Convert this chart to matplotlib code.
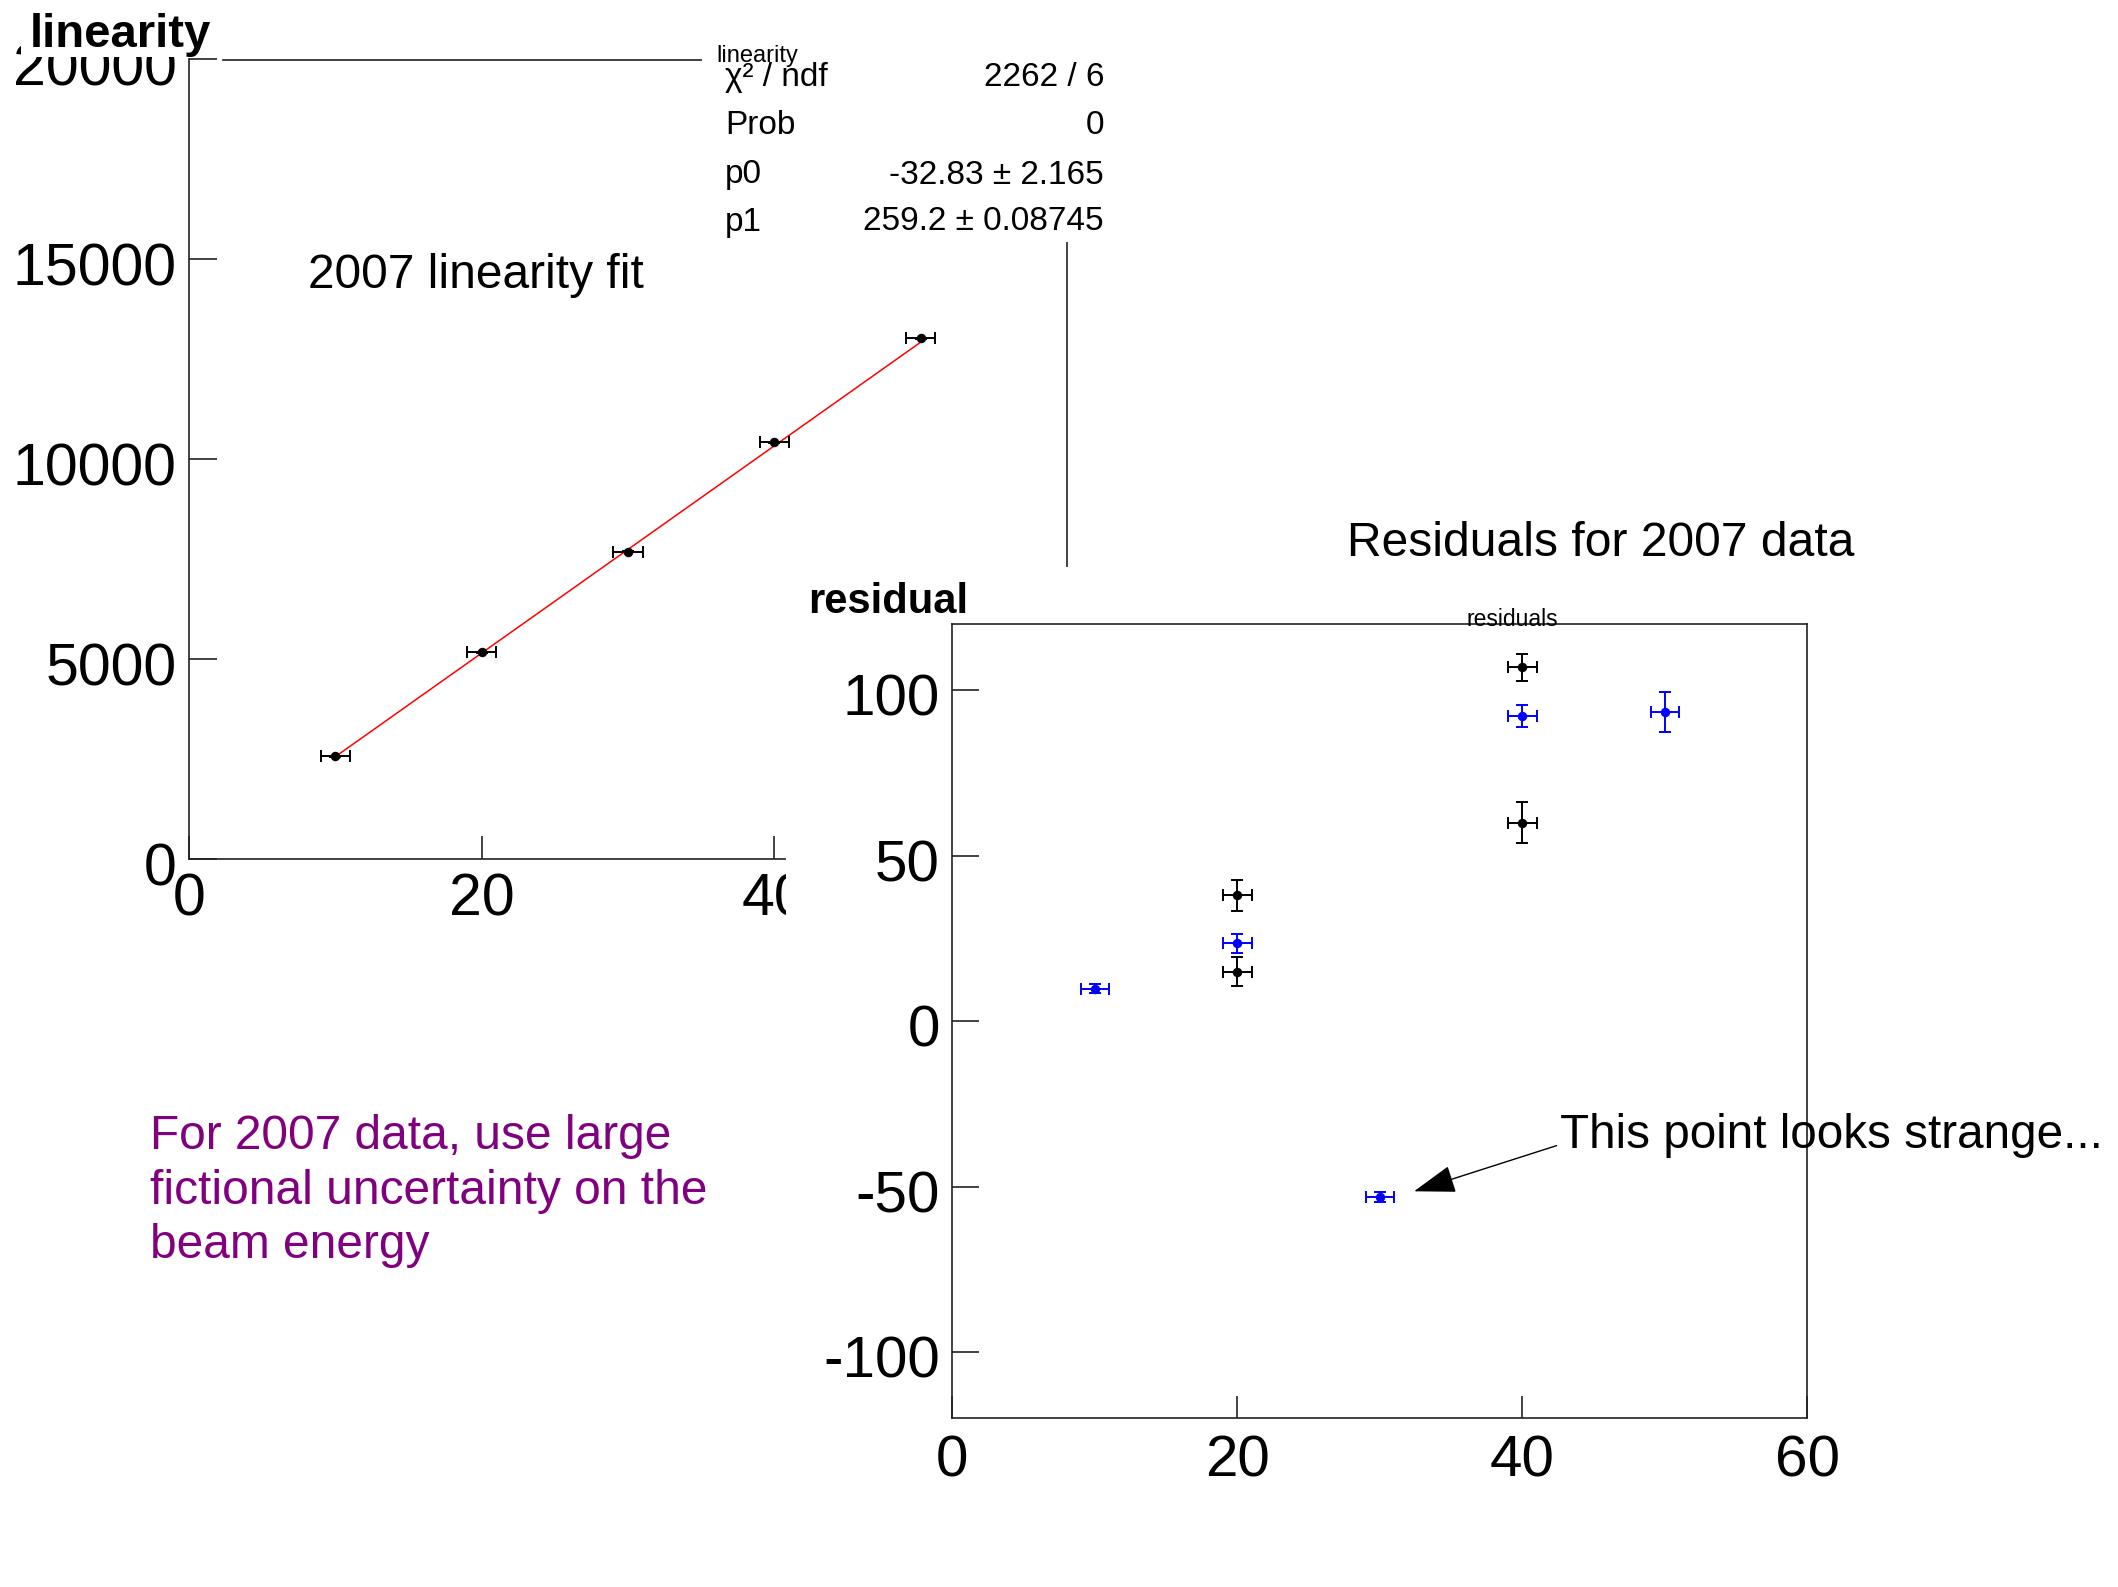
import matplotlib
matplotlib.use('Agg')
import matplotlib.pyplot as plt
import matplotlib.transforms as mtransforms
from matplotlib.patches import Rectangle
from matplotlib.lines import Line2D

plt.rcParams['font.family'] = ['Liberation Sans', 'DejaVu Sans']
plt.rcParams['axes.unicode_minus'] = False

# linearity data: beam energy vs measured response
energy = [10, 20, 30, 40, 50]
energy_err = [1, 1, 1, 1, 1]
response = [2569, 5175, 7691, 10427, 13021]
response_err = [8, 10, 12, 15, 18]

# fit results (pol1)
p0, p0_err = -32.83, 2.165
p1, p1_err = 259.2, 0.08745
chi2_ndf = '2262 / 6'
prob = '0'

# residuals
res_black_x = [20, 20, 40, 40]
res_black_y = [38, 15, 107, 60]
res_black_err = [4.8, 4.3, 4.1, 6.2]
res_blue_x = [10, 20, 30, 40, 50]
res_blue_y = [9.8, 23.5, -53, 92.2, 93.5]
res_blue_err = [1.4, 2.9, 1.5, 3.4, 6.1]
res_xerr = 1

W, H = 2118, 1587
fig = plt.figure(figsize=(W / 100, H / 100), dpi=100)
fig.patch.set_facecolor('white')

def fx(x):
    return x / W

def fy(y):
    return 1 - y / H

frame = '#222222'
# ROOT puts the y labels a little below their ticks
ydown = mtransforms.ScaledTranslation(0, -4.5 / 100, fig.dpi_scale_trans)

# ---- linearity plot
ax1 = fig.add_axes([fx(189), fy(859), (1067 - 189) / W, (859 - 59.4) / H])
ax1.set_zorder(0)
ax1.errorbar(energy, response, xerr=energy_err, yerr=response_err, fmt='o',
             color='black', ms=5.8, capsize=4, elinewidth=1.4, capthick=1.4)
ax1.plot([energy[0], energy[-1]], [p0 + p1 * energy[0], p0 + p1 * energy[-1]],
         color='red', lw=1.1, zorder=1)
ax1.set_xlim(0, 60)
ax1.set_ylim(0, 20000)
ax1.set_xticks([0, 20, 40, 60])
ax1.set_xticklabels(['0', '20', '40', ''])
ax1.set_yticks([0, 5000, 10000, 15000, 20000])
ax1.tick_params(axis='x', direction='in', length=16.5, width=1.2, labelsize=42.5,
                pad=10, color=frame)
ax1.tick_params(axis='y', direction='in', length=20, width=1.2, labelsize=42.5,
                pad=9, color=frame)
for lab in ax1.get_yticklabels():
    lab.set_transform(lab.get_transform() + ydown)
ax1.spines['top'].set_visible(False)
for s in ['left', 'right', 'bottom']:
    ax1.spines[s].set_linewidth(1.2)
    ax1.spines[s].set_color(frame)

# top frame line (partly hidden by title and stats box)
fig.add_artist(Line2D([fx(223), fx(702)], [fy(60), fy(60)],
                      color=frame, lw=1.2, zorder=1))

# title "linearity" with white box
fig.add_artist(Rectangle((fx(21), fy(57)), 201 / W, 57 / H, transform=fig.transFigure,
                         facecolor='white', edgecolor='none', zorder=4))
fig.text(fx(30), fy(47), 'linearity', fontsize=34, fontweight='bold',
         ha='left', va='baseline', zorder=5)

# stats box
fig.add_artist(Rectangle((fx(702), fy(242)), 408 / W, 204 / H, transform=fig.transFigure,
                         facecolor='white', edgecolor='none', zorder=4))
fig.text(fx(716), fy(56), 'linearity', fontsize=17, ha='left', va='center', zorder=5)
stat_rows = [('χ² / ndf', chi2_ndf),
             ('Prob', prob),
             ('p0', '%.2f ± %.3f' % (p0, p0_err)),
             ('p1', '%.1f ± %.5f' % (p1, p1_err))]
for i, (lab, val) in enumerate(stat_rows):
    yy = [77.5, 126, 175, 222][i]
    fig.text(fx(725), fy(yy), lab, fontsize=24, ha='left', va='center', zorder=5)
    fig.text(fx(1104), fy(yy), val, fontsize=24, ha='right', va='center', zorder=5)

fig.text(fx(308), fy(276), '2007 linearity fit', fontsize=34.5, ha='left', va='center')

# ---- residual pad (white, covers the lower right of the first plot)
fig.add_artist(Rectangle((fx(786), 0), 1 - fx(786), fy(567), transform=fig.transFigure,
                         facecolor='white', edgecolor='none', zorder=1))

ax2 = fig.add_axes([fx(952.3), fy(1418.3), (1807.4 - 952.3) / W, (1418.3 - 624.1) / H])
ax2.set_zorder(2)
ax2.errorbar(res_black_x, res_black_y, xerr=res_xerr, yerr=res_black_err, fmt='o',
             color='black', ms=5.8, capsize=4, elinewidth=1.4, capthick=1.4)
ax2.errorbar(res_blue_x, res_blue_y, xerr=res_xerr, yerr=res_blue_err, fmt='o',
             color='#0000ff', ms=5.8, capsize=4, elinewidth=1.4, capthick=1.4)
ax2.set_xlim(0, 60)
ax2.set_ylim(-120, 120)
ax2.set_xticks([0, 20, 40, 60])
ax2.set_yticks([-100, -50, 0, 50, 100])
ax2.tick_params(axis='x', direction='in', length=16, width=1.2, labelsize=42,
                pad=11.5, color=frame)
ax2.tick_params(axis='y', direction='in', length=19.5, width=1.2, labelsize=42,
                pad=9, color=frame)
for lab in ax2.get_yticklabels():
    lab.set_transform(lab.get_transform() + ydown)
for s in ax2.spines.values():
    s.set_linewidth(1.2)
    s.set_color(frame)

ax2.annotate('', xy=(32.4, -51.4), xytext=(42.4, -37.6),
             arrowprops=dict(arrowstyle='-|>,head_length=1.2,head_width=0.4',
                             color='black', lw=1.0, mutation_scale=22,
                             shrinkA=0, shrinkB=0),
             annotation_clip=False)

fig.text(fx(808), fy(602), 'residual', fontsize=30, fontweight='bold',
         ha='left', va='center', zorder=5)
fig.text(fx(1466), fy(619), 'residuals', fontsize=16.5, ha='left', va='center', zorder=5)
fig.text(fx(1347), fy(544), 'Residuals for 2007 data', fontsize=34.6, ha='left',
         va='center', zorder=5)
fig.text(fx(1560), fy(1136), 'This point looks strange...', fontsize=34.3,
         ha='left', va='center', zorder=5)

fig.text(fx(150), fy(1191),
         'For 2007 data, use large\nfictional uncertainty on the\nbeam energy',
         fontsize=34.5, color='#800080', ha='left', va='center', linespacing=1.27)

fig.savefig('out.png', dpi=100, facecolor='white')
